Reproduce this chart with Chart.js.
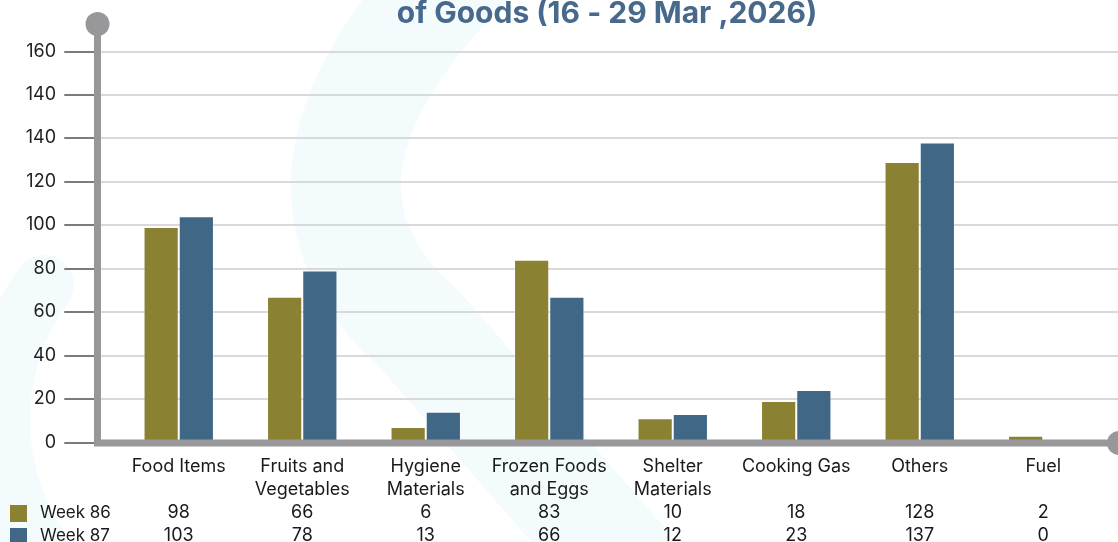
<!DOCTYPE html>
<html>
<head>
  <title>Goods Comparison</title>
  <script src="https://cdn.jsdelivr.net/npm/chart.js"></script>
</head>
<style>
  html, body { margin: 0; padding: 0; background: #ffffff; }
  .chart-container { width: 1118px; height: 542px; position: relative; }
</style>
<body>
  <div class="chart-container">
    <canvas id="chart"></canvas>
  </div>

  <script>
    // data
    const categories = [
      ["Food Items"], ["Fruits and", "Vegetables"], ["Hygiene", "Materials"],
      ["Frozen Foods", "and Eggs"], ["Shelter", "Materials"], ["Cooking Gas"],
      ["Others"], ["Fuel"]
    ];
    const week86 = [98, 66, 6, 83, 10, 18, 128, 2];
    const week87 = [103, 78, 13, 66, 12, 23, 137, 0];
    const seriesNames = ["Week 86", "Week 87"];
    const seriesColors = ["#8a8232", "#416787"];
    const yTickValues = [0, 20, 40, 60, 80, 100, 120, 140, 160, 180];
    const yTickLabels = ["0", "20", "40", "60", "80", "100", "120", "140", "140", "160"];
    const titleText = "of Goods (16 - 29 Mar ,2026)";

    const FONT = "Inter, 'Noto Sans', sans-serif";
    const AXIS_GREY = "#98989a";

    // each x label = name lines (padded to 2) + the two table values
    const xLabels = categories.map((c, i) => {
      const lines = c.slice();
      while (lines.length < 2) lines.push("");
      lines.push(String(week86[i]));
      lines.push(String(week87[i]));
      return lines;
    });

    // background watermark, grid, decorated axes, title and legend
    const decor = {
      id: "decor",
      beforeDraw(chart) {
        const ctx = chart.ctx;
        const y = chart.scales.y;
        ctx.save();
        // faint watermark bands
        ctx.strokeStyle = "rgba(235,248,252,0.55)";
        ctx.lineCap = "round";
        ctx.lineWidth = 110;
        ctx.beginPath();
        ctx.moveTo(470, -40);
        ctx.quadraticCurveTo(250, 180, 420, 330);
        ctx.lineTo(620, 560);
        ctx.stroke();
        ctx.lineWidth = 60;
        ctx.beginPath();
        ctx.arc(230, 420, 230, Math.PI * 0.75, Math.PI * 1.2);
        ctx.stroke();

        // grid lines and y labels (the picture draws them ~2px below the bar scale)
        yTickValues.forEach((v, i) => {
          const py = Math.round(y.getPixelForValue(v) + 2.5);
          if (i > 0) {
            ctx.strokeStyle = "#d9d9d9";
            ctx.lineWidth = 2;
            ctx.beginPath();
            ctx.moveTo(97, py);
            ctx.lineTo(1118, py);
            ctx.stroke();
          }
          ctx.strokeStyle = "#7b7b7d";
          ctx.lineWidth = 2;
          ctx.beginPath();
          ctx.moveTo(65, py);
          ctx.lineTo(96, py);
          ctx.stroke();
          ctx.fillStyle = "#222";
          ctx.font = "18px " + FONT;
          ctx.textAlign = "right";
          ctx.textBaseline = "middle";
          ctx.fillText(yTickLabels[i], 56, py);
        });

        // title (top line is outside the picture)
        ctx.fillStyle = "#46698c";
        ctx.font = "bold 30px " + FONT;
        ctx.textAlign = "center";
        ctx.textBaseline = "alphabetic";
        ctx.fillText(titleText, 607, 23);

        // legend of the data table
        ctx.font = "17px " + FONT;
        ctx.textAlign = "left";
        seriesNames.forEach((n, i) => {
          const cy = 513 + i * 23;
          ctx.fillStyle = seriesColors[i];
          ctx.fillRect(10, cy - 8, 17, 17);
          ctx.fillStyle = "#1a1a1a";
          ctx.textBaseline = "middle";
          ctx.fillText(n, 40, cy);
        });
        ctx.restore();
      },
      afterDatasetsDraw(chart) {
        const ctx = chart.ctx;
        const y0 = chart.scales.y.getPixelForValue(0);
        ctx.save();
        ctx.fillStyle = AXIS_GREY;
        // y axis
        ctx.fillRect(94, 24, 7, y0 + 6 - 24);
        ctx.beginPath();
        ctx.arc(97.5, 24, 12, 0, Math.PI * 2);
        ctx.fill();
        // x axis
        ctx.fillRect(94, y0 - 0.5, 1118 - 94, 7);
        ctx.beginPath();
        ctx.arc(1119, y0 + 3, 12, 0, Math.PI * 2);
        ctx.fill();
        ctx.restore();
      }
    };

    const chart = new Chart("chart", {
      type: "bar",
      data: {
        labels: xLabels,
        datasets: [
          {
            label: seriesNames[0],
            data: week86,
            backgroundColor: seriesColors[0],
            borderColor: "rgba(255,255,255,0.25)",
            borderWidth: 1,
          },
          {
            label: seriesNames[1],
            data: week87,
            backgroundColor: seriesColors[1],
            borderColor: "rgba(255,255,255,0.25)",
            borderWidth: 1,
          },
        ],
      },
      options: {
        responsive: true,
        maintainAspectRatio: false,
        animation: false,
        layout: { padding: { top: 49, left: 117, right: 13, bottom: 0 } },
        plugins: {
          legend: { display: false },
          tooltip: { enabled: false },
        },
        datasets: {
          bar: { barPercentage: 1, categoryPercentage: 0.57 },
        },
        scales: {
          x: {
            grid: { display: false, drawTicks: false },
            border: { display: false },
            ticks: {
              autoSkip: false,
              maxRotation: 0,
              padding: 15,
              color: "#1a1a1a",
              font: { family: FONT, size: 18, lineHeight: "23px" },
            },
            afterFit: (scale) => { scale.height = 102; },
          },
          y: {
            display: false,
            min: 0,
            max: 180,
          },
        },
      },
      plugins: [decor],
    });
  </script>
</body>
</html>
